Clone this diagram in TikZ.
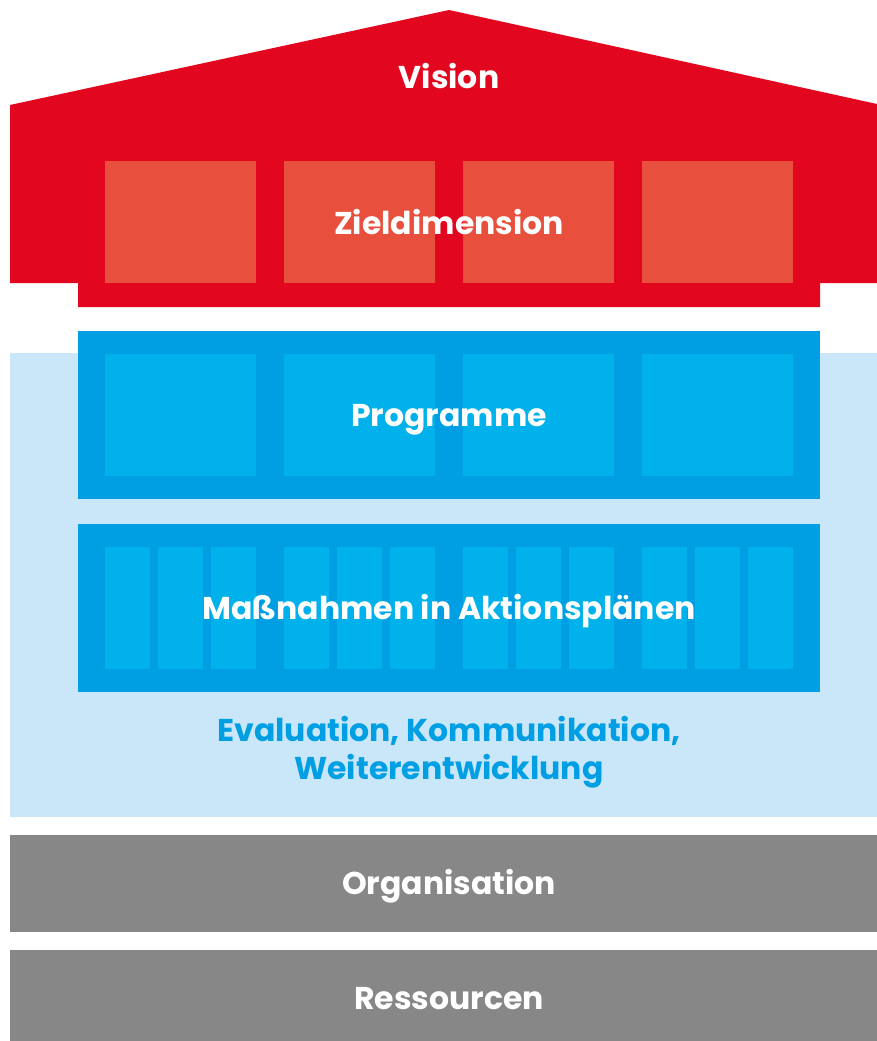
\documentclass[tikz,border=0pt]{standalone}
\usepackage{fontspec}
\setmainfont{Poppins}
\usepackage{tikz}
\definecolor{housered}{HTML}{E2071F}
\definecolor{tilered}{HTML}{E8503D}
\definecolor{boxblue}{HTML}{009FE3}
\definecolor{tileblue}{HTML}{00B1EB}
\definecolor{paleblue}{HTML}{C9E7F8}
\definecolor{basegray}{HTML}{878787}
\tikzset{
    every node/.style={rectangle, inner sep=0pt, outer sep=0pt,
    	font=\fontsize{31.5}{38}\selectfont\bfseries}
}
\tikzset{
    redtile/.style={fill=tilered, minimum width=151pt, minimum height=122pt},
    bluebox/.style={fill=boxblue, minimum width=742pt, minimum height=168pt},
    bigtile/.style={fill=tileblue, minimum width=151pt, minimum height=122pt},
    smalltile/.style={fill=tileblue, minimum width=45pt, minimum height=122pt},
    graybox/.style={fill=basegray, minimum width=867pt},
    caption/.style={text=white, text height=22pt, text depth=0pt}
}

\begin{document}
\begin{tikzpicture}[x=1pt,y=-1pt]
	\useasboundingbox (0,0) rectangle (877,1041);
	% house
	\fill[housered] (10,105) -- (449,10) -- (877,104) -- (877,283) -- (820,283)
		-- (820,307) -- (78,307) -- (78,283) -- (10,283) -- cycle;
	\node [redtile] (z1) at (180.5,222) {};
	\node [redtile] (z2) at (359.5,222) {};
	\node [redtile] (z3) at (538.5,222) {};
	\node [redtile] (z4) at (717.5,222) {};
	\node [caption] (vision) at (449,77.5) {Vision};
	\node [caption] (ziel) at (449,223.5) {Zieldimension};
	% blue part
	\fill[paleblue] (10,353) rectangle (877,817);
	\node [bluebox] (prog) at (449,415) {};
	\node [bigtile] (p1) at (180.5,415) {};
	\node [bigtile] (p2) at (359.5,415) {};
	\node [bigtile] (p3) at (538.5,415) {};
	\node [bigtile] (p4) at (717.5,415) {};
	\node [caption] (progtext) at (prog) {Programme};
	\node [bluebox] (mass) at (449,608) {};
	\foreach \g in {0,179,358,537}
		\foreach \s in {0,53,106}
			\node [smalltile] at (127.5+\g+\s,608) {};
	\node [caption] (masstext) at (mass) {Maßnahmen in Aktionsplänen};
	\node [text=boxblue, align=center] (eval) at (449,752)
		{Evaluation, Kommunikation,\\Weiterentwicklung};
	% base
	\node [graybox, minimum height=97pt] (org) at (443.5,883.5) {};
	\node [caption] (orgtext) at (449,883) {Organisation};
	\node [graybox, minimum height=91pt] (res) at (443.5,995.5) {};
	\node [caption] (restext) at (449,998) {Ressourcen};
\end{tikzpicture}
\end{document}
